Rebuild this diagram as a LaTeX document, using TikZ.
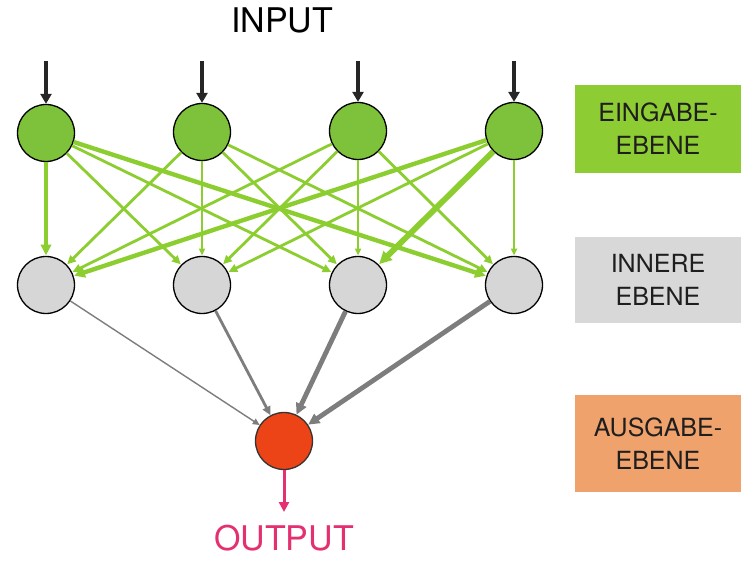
\documentclass[tikz,border=0pt]{standalone}
\usepackage{fontspec}
\setmainfont{TeX Gyre Heros}
\usetikzlibrary{arrows.meta}
\definecolor{ingreen}{RGB}{125,194,58}
\definecolor{boxgreen}{RGB}{142,204,52}
\definecolor{linegreen}{RGB}{140,206,48}
\definecolor{hidgrey}{RGB}{214,214,214}
\definecolor{boxgrey}{RGB}{216,216,216}
\definecolor{outred}{RGB}{236,68,22}
\definecolor{boxorange}{RGB}{240,162,108}
\definecolor{pinkout}{RGB}{228,48,112}
\definecolor{wgrey}{RGB}{125,125,125}
\definecolor{txtdark}{RGB}{30,30,30}
\begin{document}
\begin{tikzpicture}[x=1pt,y=-1pt,
  neuron/.style={circle,draw=black,line width=1.3pt,minimum size=57pt,inner sep=0pt},
  innode/.style={neuron,fill=ingreen},
  hidnode/.style={neuron,fill=hidgrey},
  outnode/.style={neuron,fill=outred,draw=black!80},
  tip/.style={-{Triangle[length=5pt 1.3,width=4.5pt 1.3]}},
  gl/.style={tip,draw=linegreen,shorten >=0.5pt},
  gthin/.style={gl,line width=1.3pt},
  gmed/.style={gl,line width=2.8pt},
  gthick/.style={gl,line width=4.4pt},
  gxthick/.style={gl,line width=5.8pt},
  wl/.style={tip,draw=wgrey},
  wthin/.style={wl,line width=1.4pt},
  wmed/.style={wl,line width=2.8pt},
  wthick/.style={wl,line width=4.8pt},
  lbox/.style={minimum width=166pt,inner sep=0pt,align=center,text=txtdark,
    font=\fontsize{25}{33}\selectfont},
  bigtext/.style={font=\fontsize{34}{40}\selectfont,inner sep=0pt}
]
\useasboundingbox (0,0) rectangle (741,561);
\fill[white] (0,0) rectangle (741,561);

% title texts
\node[bigtext,anchor=base] (intext) at (282,33) {INPUT};

% neurons
\node[innode] (I1) at (46,133) {};
\node[innode] (I2) at (202,132) {};
\node[innode] (I3) at (358,131) {};
\node[innode] (I4) at (514,131) {};
\node[hidnode] (H1) at (46,285) {};
\node[hidnode] (H2) at (202,285) {};
\node[hidnode] (H3) at (358,285) {};
\node[hidnode] (H4) at (514,285) {};
\node[outnode] (O) at (284,441) {};

% input arrows
\foreach \i/\x in {1/46,2/202,3/358,4/514}{
  \coordinate (a\i) at (\x,61);
  \draw[line width=3.8pt,-{Triangle[length=10pt,width=11pt]},draw=black!85] (a\i) -- (I\i);
}

% green connections
\draw[gthick] (I1) -- (H1);
\draw[gmed] (I1) -- (H2);
\draw[gmed] (I1) -- (H3);
\draw[gthick] (I1) -- (H4);
\draw[gmed] (I2) -- (H1);
\draw[gthin] (I2) -- (H2);
\draw[gmed] (I2) -- (H3);
\draw[gmed] (I2) -- (H4);
\draw[gmed] (I3) -- (H1);
\draw[gmed] (I3) -- (H2);
\draw[gthin] (I3) -- (H3);
\draw[gmed] (I3) -- (H4);
\draw[gthick] (I4) -- (H1);
\draw[gmed] (I4) -- (H2);
\draw[gxthick] (I4) -- (H3);
\draw[gthin] (I4) -- (H4);

% grey connections
\draw[wthin] (H1) -- (O);
\draw[wmed] (H2) -- (O);
\draw[wthick] (H3) -- (O);
\draw[wthick] (H4) -- (O);

% output arrow
\coordinate (oend) at (284,512);
\draw[draw=pinkout,line width=3pt,-{Triangle[length=10pt,width=10pt]}] (O) -- (oend);
\node[bigtext,anchor=base,text=pinkout] (outtext) at (284,550) {OUTPUT};

% legend boxes
\node[lbox,fill=boxgreen,minimum height=88pt] (bin) at (658,129) {EINGABE-\\EBENE};
\node[lbox,fill=boxgrey,minimum height=86pt] (bhid) at (658,280) {INNERE\\EBENE};
\node[lbox,fill=boxorange,minimum height=97pt] (bout) at (658,443.5) {AUSGABE-\\EBENE};
\end{tikzpicture}
\end{document}
